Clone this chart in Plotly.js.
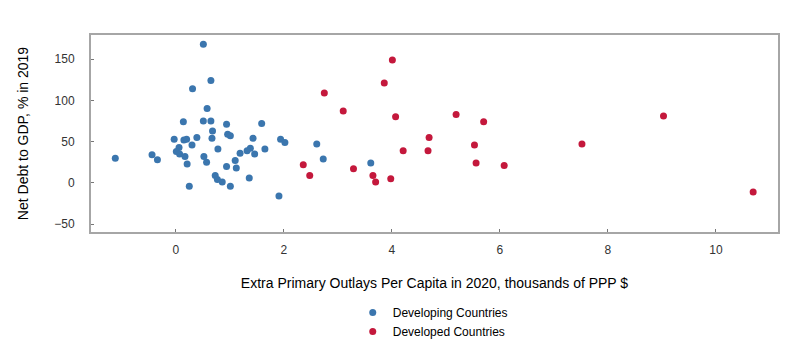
<!DOCTYPE html>
<html>
<head>
<meta charset="utf-8">
<script src="https://cdn.plot.ly/plotly-3.0.1.min.js"></script>
<style>html,body{margin:0;padding:0;background:#fff;}#chart{width:800px;height:353px;}</style>
</head>
<body>
<div id="chart"></div>
<script>
// Developing countries: extra primary outlays per capita (thousands PPP $) vs net debt to GDP (%)
var devingX = [0.51, 0.65, 0.31, 0.58, 0.14, 0.51, 0.65, 0.94, 1.59, 0.68, -0.03, 0.15, 0.20, 0.39, 0.30, 0.67, 0.96, 1.01, 1.43, 1.94, 2.02, 0.06, 0.01, 0.07, 0.17, 0.78, 1.38, 1.32, 1.19, 1.46, 1.65, -1.12, -0.44, -0.34, 0.52, 0.57, 0.21, 1.10, 0.94, 1.12, 0.73, 0.77, 0.86, 1.36, 0.25, 1.01, 1.91, 2.61, 2.73, 3.61];
var devingY = [168, 124, 114, 90, 74, 75, 75, 71, 72, 63, 53, 52, 53, 55, 46, 54, 59, 57, 54, 53, 49, 43, 38, 35, 32, 41, 42, 39, 36, 35, 41, 30, 34, 28, 32, 25, 23, 27, 20, 18, 9, 4, 1, 6, -4, -4, -16, 47, 29, 24];
// Developed countries
var devedX = [4.01, 3.86, 2.75, 3.10, 4.07, 5.19, 5.70, 4.69, 4.21, 4.67, 5.53, 5.56, 6.08, 2.36, 2.48, 3.29, 3.65, 3.70, 3.98, 7.52, 9.03, 10.69];
var devedY = [149, 121, 109, 87, 80, 83, 74, 55, 39, 39, 46, 24, 21, 22, 9, 17, 9, 1, 5, 47, 81, -11];

var xTicks = [0, 2, 4, 6, 8, 10];
var yTicks = [-50, 0, 50, 100, 150];
var seriesNames = ['Developing Countries', 'Developed Countries'];

var font = 'Liberation Sans, Arial, sans-serif';
var traces = [
  {x: devingX, y: devingY, mode: 'markers', type: 'scatter', name: seriesNames[0],
   marker: {color: '#3b76ae', size: 7}},
  {x: devedX, y: devedY, mode: 'markers', type: 'scatter', name: seriesNames[1],
   marker: {color: '#c4183c', size: 7}}
];
var axisCommon = {showline: true, mirror: true, linecolor: '#a6a6a6', linewidth: 2,
  showgrid: false, zeroline: false, ticks: 'inside', ticklen: 3, tickcolor: '#777',
  tickfont: {family: font, size: 12, color: '#333'}};
var layout = {
  width: 800, height: 353,
  margin: {l: 91, r: 22, t: 35, b: 121, autoexpand: false},
  paper_bgcolor: '#fff', plot_bgcolor: '#fff',
  font: {family: font, color: '#000'},
  showlegend: true,
  legend: {x: 0.381, y: -0.335, xanchor: 'left', yanchor: 'top', orientation: 'v',
    font: {family: font, size: 12, color: '#000'}, bgcolor: 'rgba(0,0,0,0)'},
  xaxis: Object.assign({}, axisCommon, {range: [-1.57, 11.15], tickvals: xTicks, ticklabelstandoff: 6,
    title: {text: 'Extra Primary Outlays Per Capita in 2020, thousands of PPP $', font: {family: font, size: 14, color: '#000'}, standoff: 22}}),
  yaxis: Object.assign({}, axisCommon, {range: [-59.5, 179.2], tickvals: yTicks, ticklabelstandoff: 12,
    title: {text: 'Net Debt to GDP, % in 2019', font: {family: font, size: 14, color: '#000'}, standoff: 22}})
};
Plotly.newPlot('chart', traces, layout, {displayModeBar: false, staticPlot: true});
</script>
</body>
</html>
